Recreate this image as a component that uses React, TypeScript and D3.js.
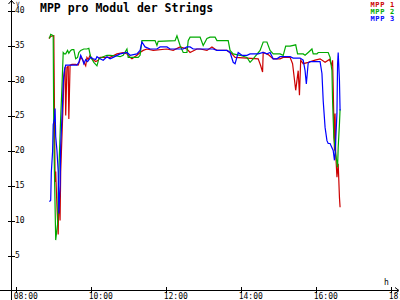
import React from "react";
import * as d3 from "d3";

const title = "MPP pro Modul der Strings";
const xTickLabels = ["08:00", "10:00", "12:00", "14:00", "16:00", "18:00"];
const yTickValues = [5, 10, 15, 20, 25, 30, 35, 40];
const seriesNames = ["MPP 1", "MPP 2", "MPP 3"];
const seriesColors = ["#cc0000", "#00aa00", "#0000ff"];

const times1 = ["08:53","08:56","09:01","09:03","09:04","09:06","09:08","09:09","09:11","09:12","09:14","09:16","09:17","09:19","09:20","09:22","09:24","09:25","09:27","09:30","09:36","09:40","09:42","09:44","09:47","09:49","09:52","09:54","09:56","09:59","10:02","10:05","10:08","10:12","10:15","10:20","10:26","10:31","10:42","10:52","10:58","11:03","11:06","11:14","11:19","11:24","11:30","11:40","12:02","12:12","12:23","12:34","12:39","12:50","12:55","13:06","13:14","13:22","13:38","13:46","13:51","14:10","14:28","14:32","14:35","14:36","14:44","14:52","15:03","15:08","15:19","15:23","15:28","15:32","15:34","15:36","15:40","15:48","15:59","16:07","16:15","16:22","16:26","16:27","16:28","16:30","16:31","16:32","16:34","16:36","16:38","16:39"];
const mpp1 = [36.0,36.3,36.4,15.5,17.0,12.0,8.0,14.0,10.0,17.0,22.0,27.0,30.5,31.9,25.0,31.9,32.0,24.5,32.2,32.3,32.3,32.2,32.7,33.3,33.0,32.6,32.1,33.3,33.0,33.6,33.1,32.9,32.7,32.9,33.3,33.3,33.3,33.3,33.8,34.0,33.8,33.3,33.1,33.6,34.0,34.3,34.5,34.3,34.5,34.3,34.8,34.5,34.0,34.5,34.5,34.3,34.8,34.3,34.3,33.8,33.3,33.2,33.1,32.1,31.2,34.0,33.7,33.1,33.1,33.3,33.3,32.4,28.6,31.4,27.9,32.9,32.4,32.6,32.9,33.1,32.6,33.0,32.1,32.9,29.0,20.0,25.3,19.5,16.2,18.1,13.3,11.9];

const times2 = ["08:54","08:56","09:00","09:01","09:03","09:04","09:07","09:08","09:10","09:12","09:14","09:16","09:18","09:20","09:23","09:25","09:28","09:30","09:33","09:36","09:39","09:41","09:44","09:49","09:54","09:57","10:00","10:03","10:05","10:10","10:13","10:20","10:26","10:31","10:42","10:47","10:52","10:58","11:00","11:16","11:19","11:22","11:43","11:46","11:48","12:15","12:18","12:23","12:28","12:34","12:36","12:39","12:55","13:00","13:06","13:11","13:19","13:22","13:40","13:43","13:48","13:59","14:10","14:15","14:20","14:31","14:36","14:42","14:47","14:52","15:03","15:08","15:12","15:19","15:28","15:31","15:40","15:43","15:48","15:54","15:56","16:02","16:04","16:20","16:23","16:26","16:27","16:29","16:32","16:35","16:36","16:38","16:39"];
const mpp2 = [36.0,36.6,36.4,22.0,12.0,7.2,9.5,14.0,19.6,24.8,29.0,34.0,33.8,33.8,34.3,33.9,34.3,34.4,34.4,33.1,33.3,34.0,34.3,34.5,34.5,34.6,33.3,32.9,32.6,32.1,33.1,33.4,33.6,33.6,33.5,33.4,33.6,34.5,33.3,33.3,33.6,35.7,35.7,35.0,35.6,35.7,36.4,35.0,34.0,34.0,35.7,36.2,36.2,35.0,36.0,36.2,36.2,35.7,35.7,34.3,33.8,33.6,33.3,32.6,33.1,34.3,35.5,35.5,34.3,33.8,33.8,33.6,34.9,34.9,35.1,33.8,33.8,33.6,34.0,34.5,33.8,33.8,34.0,34.0,33.3,31.4,27.1,21.9,19.5,17.6,20.5,23.8,25.9];

const times3 = ["08:54","08:56","08:57","08:59","09:00","09:02","09:03","09:04","09:06","09:08","09:09","09:11","09:12","09:15","09:16","09:18","09:20","09:38","09:41","09:44","09:47","09:49","09:52","09:55","10:00","10:04","10:08","10:10","10:15","10:20","10:26","10:31","10:36","10:47","10:58","11:03","11:14","11:19","11:22","11:27","11:35","11:46","11:51","12:02","12:07","12:15","12:28","12:34","12:39","12:44","12:50","13:16","13:22","13:38","13:43","13:48","13:51","13:56","14:02","14:10","14:15","14:28","14:36","14:42","14:47","14:52","14:58","15:03","15:19","15:24","15:35","15:40","15:43","15:45","15:48","15:51","16:07","16:10","16:12","16:15","16:18","16:20","16:23","16:28","16:30","16:31","16:34","16:35","16:36","16:38","16:39"];
const mpp3 = [12.7,12.9,16.9,19.8,23.7,24.5,26.0,22.0,20.0,17.0,11.0,15.0,20.7,26.9,29.6,31.5,32.2,32.2,32.6,33.6,33.0,32.4,33.0,32.7,33.3,33.1,33.0,33.4,33.1,32.9,33.4,33.1,33.3,33.8,34.0,33.6,33.8,34.3,35.5,34.8,34.5,34.5,34.8,34.8,34.5,34.5,34.5,34.8,34.8,34.5,34.5,34.5,34.3,34.3,34.0,32.6,32.4,34.0,33.6,33.6,33.8,33.8,34.0,33.8,34.0,33.1,33.1,33.4,33.4,33.2,33.2,32.9,31.4,29.5,32.5,32.7,32.7,31.0,27.1,23.3,21.4,21.0,21.0,20.0,18.6,19.5,25.3,32.4,34.0,30.0,25.7];

const seriesTimes = [times1, times2, times3];
const seriesValues = [mpp1, mpp2, mpp3];

const toMin = (s: string) => {
  const [h, m] = s.split(":").map(Number);
  return h * 60 + m;
};

const MONO = "'DejaVu Sans Mono', 'Liberation Mono', monospace";

export default function App() {
  const W = 400;
  const H = 300;
  const x = d3.scaleLinear().domain([toMin("08:00"), toMin("18:00")]).range([15.7, 390.7]);
  const y = d3.scaleLinear().domain([0, 40]).range([290.5, 10.5]);
  const axisX = 11.5;
  const axisY = 290.5;

  const line = d3
    .line<[number, number]>()
    .x((d) => x(d[0]))
    .y((d) => y(d[1]));

  const paths = seriesTimes.map((ts, i) =>
    line(ts.map((t, j) => [toMin(t), seriesValues[i][j]] as [number, number])) || ""
  );

  return (
    <svg
      width={W}
      height={H}
      viewBox={`0 0 ${W} ${H}`}
      style={{ position: "absolute", left: 0, top: 0, display: "block", background: "#ffffff" }}
    >
      <rect x={0} y={0} width={W} height={H} fill="#ffffff" />

      {/* data lines */}
      {paths.map((p, i) => (
        <path key={i} d={p} fill="none" stroke={seriesColors[i]} strokeWidth={1.2} strokeLinejoin="miter" />
      ))}

      {/* axes */}
      <g stroke="#000" strokeWidth={1} shapeRendering="crispEdges">
        <line x1={axisX} y1={0} x2={axisX} y2={H} />
        <line x1={0} y1={axisY} x2={398} y2={axisY} />
        {yTickValues.map((v) => (
          <line key={v} x1={8} x2={15} y1={Math.round(y(v)) + 0.5} y2={Math.round(y(v)) + 0.5} />
        ))}
        {xTickLabels.map((l) => (
          <line key={l} x1={Math.round(x(toMin(l))) + 0.5} x2={Math.round(x(toMin(l))) + 0.5} y1={287} y2={293} />
        ))}
      </g>
      <g stroke="#000" strokeWidth={1} fill="none">
        <polyline points={`${axisX - 3},4 ${axisX},0.5 ${axisX + 3},4`} />
        <polyline points={`395,${axisY - 3} 399,${axisY} 395,${axisY + 3}`} />
      </g>

      {/* tick labels */}
      <g fontFamily={MONO} fontSize={8} fill="#000">
        {yTickValues.map((v) => (
          <text key={v} x={15} y={y(v)} dy="0.35em">
            {v}
          </text>
        ))}
        {xTickLabels.map((l) => (
          <text key={l} x={x(toMin(l)) - 2} y={299}>
            {l}
          </text>
        ))}
        <text x={384} y={285}>h</text>
      </g>
      <text x={16} y={6} fontFamily={MONO} fontSize={6} fill="#000">V</text>

      {/* title */}
      <text x={40} y={12} fontFamily={MONO} fontSize={11.5} fontWeight="bold" fill="#000">
        {title}
      </text>

      {/* legend */}
      <g fontFamily={MONO} fontSize={7} fontWeight="bold" textAnchor="end" letterSpacing={0.7}>
        {seriesNames.map((n, i) => (
          <text key={n} x={395} y={7 + i * 7.2} fill={seriesColors[i]}>
            {n}
          </text>
        ))}
      </g>
    </svg>
  );
}
